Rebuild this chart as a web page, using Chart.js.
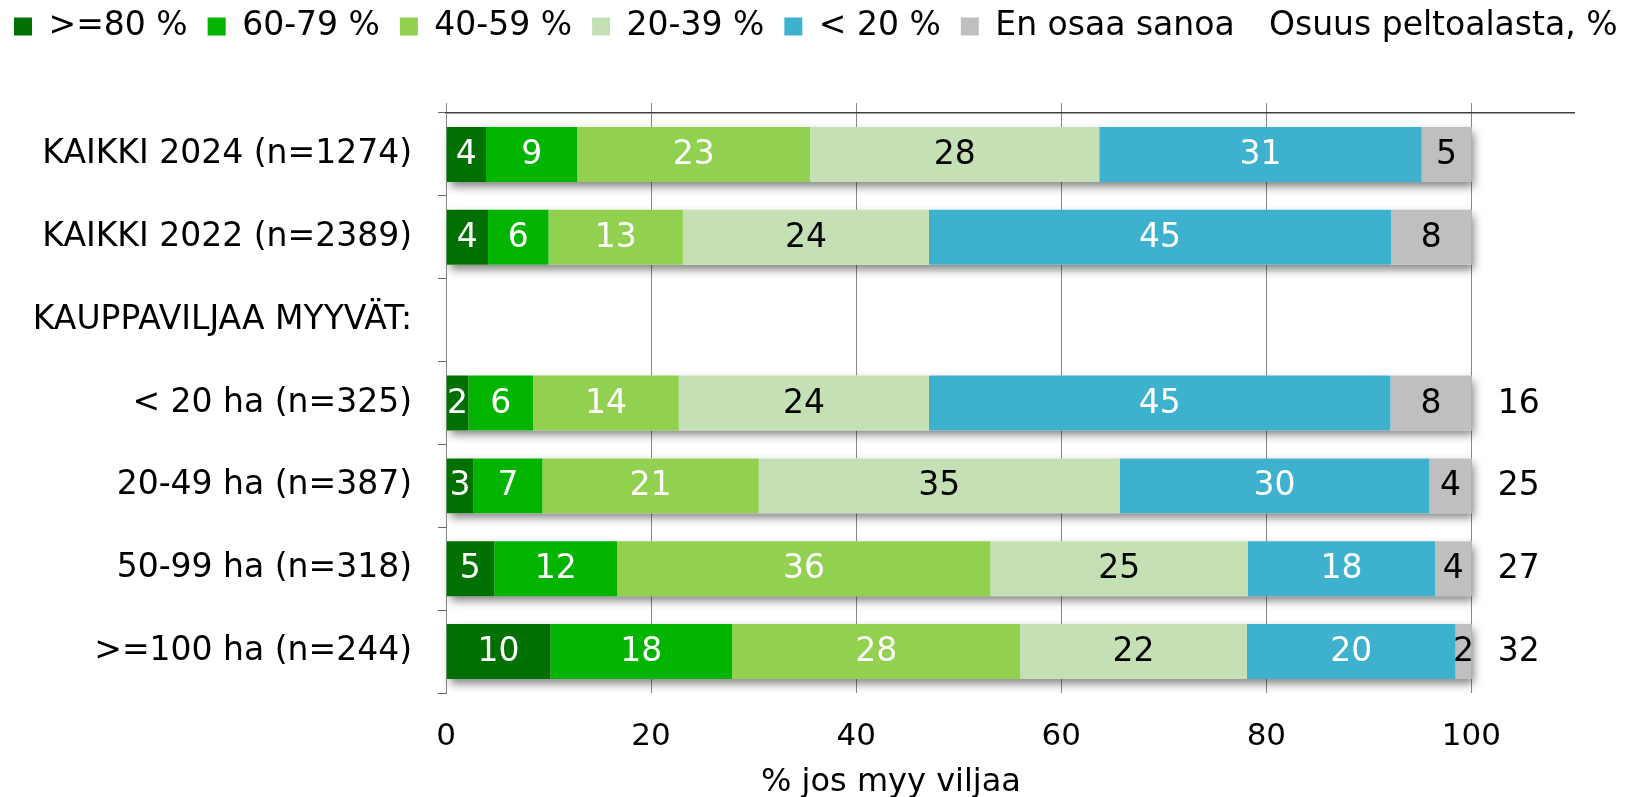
<!DOCTYPE html>
<html><head><meta charset="utf-8">
<script src="https://cdn.jsdelivr.net/npm/chart.js@4.4.1/dist/chart.umd.min.js"></script>
<style>html,body{margin:0;padding:0;background:#fff;}</style>
</head><body>
<canvas id="c" width="1632" height="797"></canvas>
<script>
// ---- data ----
const categories = ['KAIKKI 2024 (n=1274)', 'KAIKKI 2022 (n=2389)', 'KAUPPAVILJAA MYYVÄT:', '< 20 ha (n=325)', '20-49 ha (n=387)', '50-99 ha (n=318)', '>=100 ha (n=244)'];
const seriesNames = ['>=80 %', '60-79 %', '40-59 %', '20-39 %', '< 20 %', 'En osaa sanoa'];
const s80   = [3.9,   4.1,   null, 2.2,  2.7,  4.7,   10.2];
const s60   = [8.9,   5.9,   null, 6.3,  6.7,  12.0,  17.7];
const s40   = [22.7,  13.1,  null, 14.2, 21.1, 36.4,  28.1];
const s20   = [28.2,  24.0,  null, 24.4, 35.2, 25.1,  22.1];
const sLt20 = [31.45, 45.05, null, 45.0, 30.2, 18.25, 20.35];
const sEos  = [4.85,  7.85,  null, 7.9,  4.1,  3.55,  1.55];
const shareTitle = 'Osuus peltoalasta, %';
const shareOfField = [null, null, null, 16, 25, 27, 32];
const xTicks = [0, 20, 40, 60, 80, 100];
const xTitle = '% jos myy viljaa';

const seriesData = [s80, s60, s40, s20, sLt20, sEos];
const colors = ['#007000', '#00B400', '#92D050', '#C5E0B4', '#3EB1CE', '#BFBFBF'];
const labelColors = ['#fff', '#fff', '#fff', '#000', '#fff', '#000'];
const FONT = "'DejaVu Sans', Verdana, sans-serif";

Chart.defaults.font.family = FONT;
Chart.defaults.font.size = 33;
Chart.defaults.color = '#000';

const shadowPlugin = {
  id: 'barShadow',
  beforeDatasetsDraw(chart) {
    const ctx = chart.ctx;
    const n = chart.data.labels.length;
    ctx.save();
    ctx.shadowColor = 'rgba(0,0,0,0.5)';
    ctx.shadowBlur = 9;
    ctx.shadowOffsetX = 3;
    ctx.shadowOffsetY = 5;
    ctx.fillStyle = '#fff';
    for (let i = 0; i < n; i++) {
      let left = Infinity, right = -Infinity, top = 0, bottom = 0, any = false;
      chart.data.datasets.forEach((ds, di) => {
        if (ds.data[i] == null) return;
        const el = chart.getDatasetMeta(di).data[i];
        const p = el.getProps(['x', 'y', 'base', 'height'], true);
        left = Math.min(left, p.base, p.x);
        right = Math.max(right, p.base, p.x);
        top = p.y - p.height / 2;
        bottom = p.y + p.height / 2;
        any = true;
      });
      if (any) ctx.fillRect(left, top, right - left, bottom - top);
    }
    ctx.restore();
  }
};

const labelPlugin = {
  id: 'barLabels',
  afterDatasetsDraw(chart) {
    const ctx = chart.ctx;
    ctx.save();
    ctx.font = '33px ' + FONT;
    ctx.textAlign = 'center';
    ctx.textBaseline = 'middle';
    chart.data.datasets.forEach((ds, di) => {
      const meta = chart.getDatasetMeta(di);
      meta.data.forEach((el, i) => {
        const v = ds.data[i];
        if (v == null) return;
        const p = el.getProps(['x', 'y', 'base'], true);
        ctx.fillStyle = ds.labelColor;
        ctx.fillText(String(Math.round(v)), (p.x + p.base) / 2, p.y + 1);
      });
    });
    const xs = chart.scales.x, ys = chart.scales.y;
    ctx.fillStyle = '#000';
    shareOfField.forEach((v, i) => {
      if (v == null) return;
      ctx.fillText(String(v), xs.getPixelForValue(104.6), ys.getPixelForValue(i) + 1);
    });
    // extra legend entry (series shown only as labels)
    const hb = chart.legend.legendHitBoxes[0];
    ctx.textAlign = 'left';
    ctx.fillText(shareTitle, 1269, hb.top + hb.height / 2);
    // axis title
    ctx.font = '32px ' + FONT;
    ctx.textAlign = 'center';
    ctx.fillText(xTitle, 891, 783);
    ctx.restore();
  }
};

new Chart(document.getElementById('c'), {
  type: 'bar',
  data: {
    labels: categories,
    datasets: seriesNames.map((name, i) => ({
      label: name,
      data: seriesData[i],
      backgroundColor: colors[i],
      borderWidth: 0,
      barPercentage: 0.663,
      categoryPercentage: 1,
      labelColor: labelColors[i]
    }))
  },
  options: {
    indexAxis: 'y',
    responsive: false,
    animation: false,
    layout: { padding: { left: -6, right: 58, top: -10, bottom: 0 } },
    plugins: {
      legend: {
        display: true, position: 'top', align: 'start',
        labels: { boxWidth: 18, boxHeight: 18, padding: 20, font: { size: 33 }, color: '#000' }
      },
      tooltip: { enabled: false }
    },
    scales: {
      x: {
        stacked: true, min: 0, max: 110, position: 'bottom',
        afterBuildTicks: s => { s.ticks = xTicks.map(v => ({ value: v })); },
        afterFit: s => { s.height = 104; },
        grid: { drawTicks: false, lineWidth: 1, color: c => (c.tick && c.tick.value === 0) ? 'rgba(0,0,0,0)' : '#888888' },
        border: { display: false },
        ticks: { padding: 25, font: { size: 31 }, color: '#000' }
      },
      x2: {
        min: 0, max: 110, position: 'top',
        afterBuildTicks: s => { s.ticks = xTicks.map(v => ({ value: v })); },
        afterFit: s => { s.height = 60; },
        grid: { drawOnChartArea: false, drawTicks: true, tickLength: 10, color: '#888888' },
        border: { display: true, color: '#404040', width: 1.5 },
        ticks: { display: false }
      },
      y: {
        stacked: true,
        afterFit: s => { s.width = 452; },
        grid: { drawOnChartArea: false, offset: true, drawTicks: true, tickLength: 8, color: '#666666' },
        border: { display: true, color: '#888888' },
        ticks: { padding: 26, font: { size: 33 }, color: '#000', autoSkip: false }
      }
    }
  },
  plugins: [shadowPlugin, labelPlugin]
});
</script>
</body></html>
